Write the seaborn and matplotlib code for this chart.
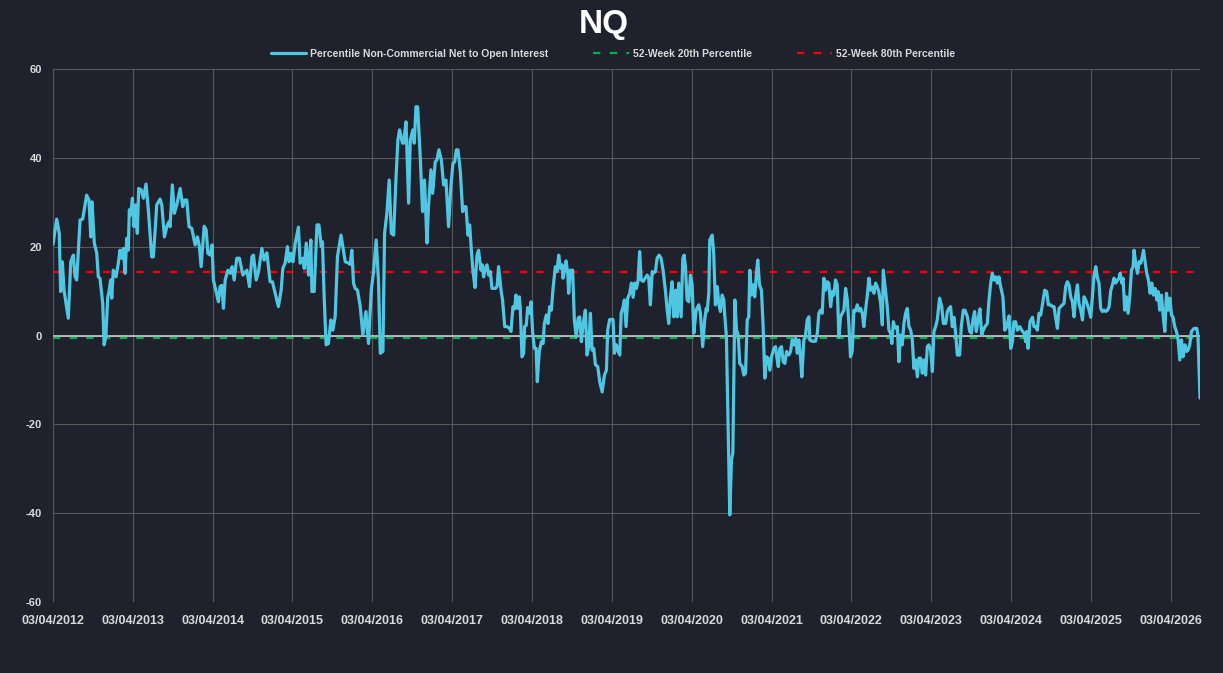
import numpy as np
import pandas as pd
import matplotlib
matplotlib.use("Agg")
import matplotlib.pyplot as plt
import seaborn as sns

# weekly series, x given as weeks after the first report date
start_date = "2012-04-03"
weeks = [
    0.0, 2.4, 4.1, 5.0, 6.1, 7.2, 10.0, 11.6, 13.3, 14.4,
    15.5, 17.7, 19.4, 22.0, 23.5, 24.7, 25.5, 27.0, 28.6, 29.6,
    30.7, 32.5, 33.4, 34.5, 35.8, 36.6, 37.7, 38.4, 39.4, 41.2,
    42.7, 43.8, 44.9, 46.0, 47.1, 48.2, 49.2, 49.9, 50.8, 51.9,
    53.0, 54.1, 55.1, 56.0, 57.6, 59.1, 60.8, 62.3, 64.5, 65.6,
    67.8, 70.0, 71.1, 72.8, 74.4, 75.7, 76.5, 78.0, 79.3, 80.9,
    83.1, 84.8, 85.9, 87.4, 88.9, 90.7, 92.9, 94.4, 95.7, 96.8,
    98.8, 100.1, 101.2, 102.7, 104.0, 104.8, 106.6, 108.1, 109.2, 110.3,
    111.4, 112.5, 114.3, 115.8, 117.1, 118.4, 120.1, 121.8,
    124.1, 126.7, 128.4, 130.0, 131.0, 132.8, 134.3, 136.5, 138.0, 139.8,
    141.9, 143.4, 145.2, 147.3, 149.1, 150.2, 151.7, 153.2, 154.3, 155.5,
    156.8, 158.3, 160.4, 161.5, 163.3, 164.2, 165.5, 167.0, 168.5, 169.2,
    170.7, 172.5, 173.8, 175.3, 176.1, 177.2, 178.5, 180.0, 181.6, 182.9,
    184.4, 185.9, 188.2, 191.0, 193.1, 194.2, 195.3, 196.4, 197.5, 199.0,
    200.8, 202.5, 204.5, 206.2, 208.0, 209.5, 211.2, 212.7, 213.9, 215.6,
    216.7, 218.2, 219.7, 221.1, 222.6, 224.1, 225.4, 226.5, 228.4, 229.1,
    230.7, 232.4, 233.5, 235.2, 236.1, 237.2, 238.3, 240.0, 241.5, 242.8,
    244.4, 245.4, 247.0, 248.1, 249.8, 250.9, 252.2, 253.8, 255.3, 256.8,
    258.5, 260.1, 261.4, 262.5, 263.6, 264.7, 266.2, 267.7, 268.8, 269.9,
    271.2, 272.3, 273.4, 274.5, 275.8, 277.1, 278.1, 279.7, 280.6, 281.4,
    282.5, 283.6, 284.7, 285.8, 286.9, 289.1, 290.2, 291.2, 292.8, 293.8,
    295.2, 296.7, 298.4, 299.3, 300.6, 301.7, 302.6, 303.7, 304.8, 305.4,
    306.5, 307.6, 308.2, 309.3, 310.2, 311.5, 312.4, 313.5, 314.6, 315.7,
    316.5, 317.8, 319.2, 320.3, 321.1, 322.4, 323.5, 324.6, 325.7, 326.8,
    328.3, 329.4, 330.5, 331.6, 332.7, 333.3, 334.4, 335.3, 336.4, 337.0,
    338.1, 339.6, 340.7, 342.0, 343.2, 344.2, 345.3, 346.4, 347.9, 349.0,
    350.1, 351.2, 352.3, 353.4, 354.5, 356.0, 357.3, 358.9, 360.4, 361.7,
    362.5, 363.8, 366.0, 366.9, 368.2, 369.1, 370.4, 371.3, 372.6, 373.4,
    374.5, 375.6, 376.9, 378.0, 379.1, 380.2, 381.3, 382.4, 383.4, 384.4,
    385.7, 387.2, 388.3, 389.3, 390.4, 391.6, 392.6, 393.7, 394.8, 396.1,
    397.4, 398.7, 400.2, 401.4, 402.4, 403.5, 404.6, 405.7, 406.8, 407.9,
    408.9, 410.5, 411.6, 412.5, 413.3, 414.4, 415.5,
    416.6, 417.7, 418.8, 420.3, 422.0, 423.1, 424.6, 425.9, 426.9, 427.5,
    428.6, 429.2, 430.8, 431.8, 432.9, 434.1, 435.1, 436.2, 437.3, 438.4,
    439.0, 440.1, 441.0, 442.3, 443.4, 444.3, 445.6, 446.7, 447.8, 448.8,
    450.4, 451.5, 452.6, 453.7, 454.7, 455.4, 456.5, 457.6, 458.6, 459.8,
    460.6, 461.7, 463.0, 464.1, 465.2, 466.3, 467.4, 468.5, 469.6, 471.1,
    472.2, 473.3, 474.0, 475.0, 476.1, 477.2, 478.3, 479.4, 480.9, 482.0,
    483.1, 484.2, 485.3, 486.4, 487.4, 488.5, 489.4, 490.7, 491.8, 492.9,
    494.0, 494.6, 496.2, 498.3, 499.5, 500.5, 501.6, 502.7, 503.8, 504.9,
    506.0, 507.0, 508.2, 509.3, 510.3, 511.4, 512.5, 513.6, 514.7, 515.8,
    516.9, 518.0, 519.1, 520.1, 521.2, 522.3, 523.4, 524.5, 525.6, 526.7,
    527.8, 528.9, 529.9, 531.0, 532.2, 533.2, 534.3, 535.4, 536.5, 537.6,
    538.7, 539.7, 540.9, 542.0, 542.6, 544.1, 545.2, 546.3, 547.4, 548.2,
    549.2, 550.0, 551.1, 551.8, 552.8, 553.9, 555.0, 556.1, 557.2, 558.3,
    559.4, 560.5, 561.6, 562.6, 563.7, 564.9, 565.9,
    567.0, 568.1, 569.2, 570.3, 571.4, 572.4, 573.6, 574.7, 575.7, 576.8,
    577.9, 579.4, 580.8, 581.9, 583.4, 584.5, 585.5, 586.6, 587.7, 588.8,
    589.9, 591.0, 592.5, 593.6, 594.9, 596.0, 597.6, 599.1, 600.2, 601.2,
    602.3, 603.4, 604.5, 605.8, 606.9, 608.0, 609.1, 610.6, 611.7, 612.8,
    613.9, 615.0, 616.1, 617.2, 618.2, 619.3, 620.8, 622.0, 623.3, 624.8,
    625.9, 627.0, 628.0, 629.1, 630.3, 631.8, 633.1, 634.6, 635.7, 636.3,
    637.2, 638.5, 640.1, 641.1, 642.2, 643.3, 644.4, 645.5, 646.6, 648.1,
    649.4, 650.5, 652.0, 653.1, 654.2, 655.3, 656.4, 657.5, 658.6, 659.7,
    660.7, 661.8, 662.9, 664.0, 665.1, 666.2, 667.3, 668.4, 669.5, 670.5,
    671.7, 672.8, 673.8, 674.9, 676.0, 677.1, 678.2, 679.3, 680.4, 681.5,
    682.6, 683.6, 684.7, 685.8, 686.9, 688.0, 689.1, 690.2, 691.3, 692.4,
    693.4, 694.5, 695.7, 696.7, 697.4, 698.5, 699.3, 700.4, 701.5, 702.6,
    703.7, 704.8, 705.9, 706.5, 707.6, 708.7, 709.8, 710.9, 711.6, 712.7,
    713.7, 714.8, 715.9, 717.0, 718.1, 719.2, 720.3, 721.4, 722.2, 723.3,
    724.4, 725.5, 726.6, 727.7, 728.8, 729.9, 731.0, 732.0, 733.1, 734.2,
    735.3, 736.4, 737.5, 738.5, 739.7, 740.8, 741.8, 742.9, 744.0, 745.7,
    747.5, 748.3, 749.6,
]

net_oi_pct = [
    20.5, 26.2, 23.0, 9.9, 16.6, 10.2, 3.9, 16.6, 18.1, 13.2,
    12.5, 26.0, 26.2, 31.6, 30.5, 22.2, 30.1, 20.8, 18.5, 13.2,
    12.9, 7.2, -2.1, -0.3, 8.7, 9.9, 12.5, 8.4, 14.7, 13.2,
    16.3, 19.2, 17.4, 19.6, 14.0, 21.9, 19.2, 28.3, 27.1, 30.9,
    24.5, 29.4, 23.0, 33.1, 32.8, 30.9, 34.1, 28.3, 17.7, 17.7,
    29.4, 30.7, 29.4, 22.2, 24.5, 25.6, 24.5, 33.9, 27.5, 29.4,
    33.1, 29.0, 30.5, 30.5, 24.5, 24.1, 20.4, 22.2, 20.0, 15.5,
    24.6, 23.8, 18.5, 18.1, 20.4, 12.5, 9.9, 7.6, 11.0, 11.3,
    6.1, 12.5, 14.7, 14.0, 15.5, 12.5, 17.4, 17.4,
    13.6, 14.7, 11.0, 17.7, 18.1, 12.5, 14.4, 19.6, 17.0, 18.6,
    12.1, 12.1, 9.5, 6.5, 10.2, 15.1, 16.3, 20.0, 16.6, 18.5,
    16.6, 20.8, 24.4, 16.3, 17.4, 15.1, 20.8, 13.6, 21.5, 9.9,
    9.9, 24.9, 24.9, 20.0, 21.1, 8.7, -2.1, -1.8, 3.5, 1.2,
    4.2, 17.7, 22.6, 16.6, 16.3, 16.0, 19.2, 11.8, 10.6, 10.2,
    6.5, 0.1, 5.4, -1.8, 10.2, 14.4, 21.5, 12.5, -4.0, -3.6,
    23.0, 27.5, 35.0, 23.0, 22.6, 35.0, 44.0, 46.3, 43.3, 43.3,
    48.1, 29.8, 44.0, 46.3, 43.3, 51.5, 51.5, 40.3, 27.9, 35.0,
    20.8, 29.0, 37.3, 32.0, 39.1, 39.5, 41.8, 39.5, 33.9, 35.0,
    24.5, 33.9, 38.8, 39.1, 41.8, 41.8, 36.9, 27.9, 29.0, 29.0,
    22.6, 24.9, 19.2, 14.4, 10.8, 18.1, 19.2, 14.7, 15.9, 13.2,
    15.1, 15.9, 13.6, 14.4, 10.6, 10.6, 11.0, 15.5, 10.2, 8.0,
    2.0, 2.0, 1.6, 0.9, 6.5, 6.0, 9.1, 6.1, 8.7, 6.0,
    -4.8, -4.0, 2.0, 2.3, 6.3, 5.0, 7.6, 0.5, -2.9, -2.9,
    -10.4, -3.6, -1.4, -1.8, 2.7, 4.6, 2.7, 6.5, 5.7, 10.6,
    15.5, 14.4, 18.1, 15.1, 15.9, 12.9, 14.7, 16.8, 14.0, 9.5,
    14.7, 14.7, 3.5, -0.3, 3.9, 4.2, -1.4, 2.4, 5.7, -4.4,
    -2.5, 5.0, -3.3, -2.9, -6.6, -7.0, -10.4, -12.7, -8.9, -7.8,
    1.2, 3.6, 3.6, -4.0, -2.1, -3.3, -4.4, 5.0, 6.5, 8.0,
    2.0, 8.4, 9.5, 11.8, 8.6, 11.8, 10.6, 12.5, 18.9, 12.5,
    12.2, 13.0, 13.6, 13.0, 6.9, 14.4, 14.1, 14.4, 17.4, 18.1,
    17.4, 14.7, 10.2, 5.7, 2.7, 8.7, 12.1, 4.2, 10.2, 4.2,
    11.8, 4.2, 17.4, 18.1, 15.5, 8.0, 7.6,
    13.6, 11.4, 0.5, 5.7, 6.9, 5.0, -2.5, 3.5, 6.1, 5.5,
    9.5, 21.5, 22.6, 18.5, 6.9, 11.0, 7.2, 5.4, 9.1, 8.0,
    4.6, -0.3, -16.8, -40.4, -28.0, -26.5, 8.0, 1.2, 0.1, -6.3,
    -7.0, -8.9, -8.5, 3.5, 4.2, 14.7, 9.1, 11.4, 8.7, 14.4,
    17.0, 11.4, 10.2, 2.0, -9.6, -4.8, -5.1, -7.8, -4.8, -2.9,
    -2.5, -5.5, -7.0, -2.9, -2.5, -5.9, -6.3, -3.6, -4.4, -3.6,
    -1.0, -2.1, -0.6, -4.0, -1.0, -4.8, -9.3, -1.0, 0.1, 3.5,
    4.2, -1.0, -1.3, -1.3, 0.5, 5.0, 5.7, 5.0, 12.9, 10.2,
    12.1, 11.8, 6.5, 9.9, 9.1, 12.5, 11.4, -0.3, 4.2, 5.0,
    5.7, 10.6, 8.0, 2.7, -4.8, -3.6, 5.7, 5.5, 6.9, 5.5,
    6.1, 5.0, 2.0, 5.7, 9.1, 12.9, 10.2, 10.9, 9.5, 11.8,
    10.9, 9.9, 7.2, 2.4, 14.7, 9.9, 6.5, 1.2, 0.5, -1.8,
    3.1, 2.0, 1.6, 2.0, -5.9, 0.1, -2.1, 2.7, 5.0, 6.1,
    2.0, 1.2, -1.0, -7.4, -5.5, -9.3, -5.1,
    -5.1, -8.5, -5.5, -8.9, -2.5, -2.1, -3.3, -8.1, 0.9, 2.0,
    3.5, 8.4, 6.5, 2.7, 2.7, 5.4, 6.1, 6.5, 2.0, 4.1,
    0.5, -4.4, -4.4, 2.0, 5.7, 5.7, 4.2, 0.9, 0.5, 3.5,
    5.4, 0.9, 3.5, 6.0, 0.1, 1.2, 2.0, 2.7, 8.0, 11.8,
    14.0, 12.5, 13.2, 11.8, 13.2, 11.0, 8.7, 1.2, 2.0, 4.4,
    -2.9, -1.4, 3.1, 3.1, 1.2, 2.0, 1.2, 0.5, -1.4, 0.9,
    -2.9, 3.1, 4.1, 2.0, 2.0, 1.2, 5.0, 4.6, 6.9, 10.2,
    9.9, 6.9, 6.9, 6.5, 6.5, 3.9, 1.6, 6.1, 6.5, 6.9,
    7.2, 11.0, 12.1, 11.4, 8.7, 7.6, 4.2, 9.1, 11.4, 7.2,
    5.7, 3.5, 8.7, 8.0, 6.9, 5.7, 4.1, 8.7, 13.6, 15.5,
    12.9, 11.8, 6.1, 5.4, 5.7, 5.4, 5.7, 6.5, 10.2, 11.4,
    12.9, 11.8, 12.5, 12.9, 14.0, 11.8, 12.9, 5.7, 8.7, 5.0,
    8.7, 14.7, 15.5, 19.2, 16.3, 14.0, 16.6, 16.3, 17.3, 19.2,
    16.6, 14.0, 12.5, 9.5, 11.8, 9.1, 10.6, 8.0, 9.9, 5.7,
    9.1, 4.6, 0.9, 9.5, 5.7, 8.4, 4.6, 4.1, 2.0, 0.9,
    -1.0, -5.5, -1.0, -4.8, -2.1, -3.6, -3.3, -2.1, 0.9, 1.6,
    1.6, -0.3, -14.1,
]

pct20 = -0.55
pct80 = 14.4

labels = ["Percentile Non-Commercial Net to Open Interest",
          "52-Week 20th Percentile",
          "52-Week 80th Percentile"]
tick_years = list(range(2012, 2027))

n = min(len(weeks), len(net_oi_pct))
dates = pd.Timestamp(start_date) + pd.to_timedelta(np.array(weeks[:n]) * 7, unit="D")
df = pd.DataFrame({"date": dates, "value": net_oi_pct[:n]})
df["p20"] = pct20
df["p80"] = pct80

bg = "#1f222d"
txt = "#d9d9d9"
grid_c = "#585858"

sns.set_theme(style="dark")
plt.rcParams["font.family"] = ["Liberation Sans", "DejaVu Sans"]
plt.rcParams["axes.unicode_minus"] = False

fig = plt.figure(figsize=(12.23, 6.73), dpi=100, facecolor=bg)
ax = fig.add_axes([53 / 1223, 1 - 602 / 673, 1147 / 1223, 533 / 673])
ax.set_facecolor(bg)

ax.axhline(0, color=txt, lw=1.1, zorder=2)
sns.lineplot(data=df, x="date", y="p20", ax=ax, color="#00b050", lw=1.6,
             legend=False, zorder=3)
sns.lineplot(data=df, x="date", y="p80", ax=ax, color="#ff0000", lw=1.6,
             legend=False, zorder=3)
sns.lineplot(data=df, x="date", y="value", ax=ax, color="#4fc6e2", lw=2.3,
             legend=False, zorder=4, solid_joinstyle="round")
lines = ax.get_lines()
line_p20, line_p80, line_main = lines[-3], lines[-2], lines[-1]
line_p20.set_linestyle((0, (3.3, 4.2)))
line_p80.set_linestyle((0, (3.3, 4.2)))

ax.set_xlim(df["date"].min(), df["date"].max())
ax.set_ylim(-60, 60)
ax.set_yticks(range(-60, 61, 20))
ticks = [pd.Timestamp(f"{y}-04-03") for y in tick_years]
ax.set_xticks(ticks)
ax.set_xticklabels([t.strftime("%d/%m/%Y") for t in ticks])
ax.set_xlabel("")
ax.set_ylabel("")

ax.grid(True, color=grid_c, lw=0.8)
ax.set_axisbelow(True)
for s in ax.spines.values():
    s.set_visible(False)
ax.tick_params(axis="x", length=0, pad=9, labelsize=9, labelcolor=txt)
ax.tick_params(axis="y", length=0, pad=8, labelsize=8, labelcolor=txt)
for lab in ax.get_xticklabels() + ax.get_yticklabels():
    lab.set_fontweight("bold")

fig.text(0.494, 1 - 25 / 673, "NQ", ha="center", va="center",
         fontsize=24, fontweight="bold", color="white")

fig.legend([line_main, line_p20, line_p80], labels, loc="center",
           bbox_to_anchor=(613 / 1223, 1 - 54 / 673), ncol=3, frameon=False,
           prop={"size": 7.5, "weight": "bold"}, labelcolor=txt,
           handlelength=3.4, handletextpad=0.4, columnspacing=4.3)

fig.savefig("out.png", dpi=100, facecolor=bg)
